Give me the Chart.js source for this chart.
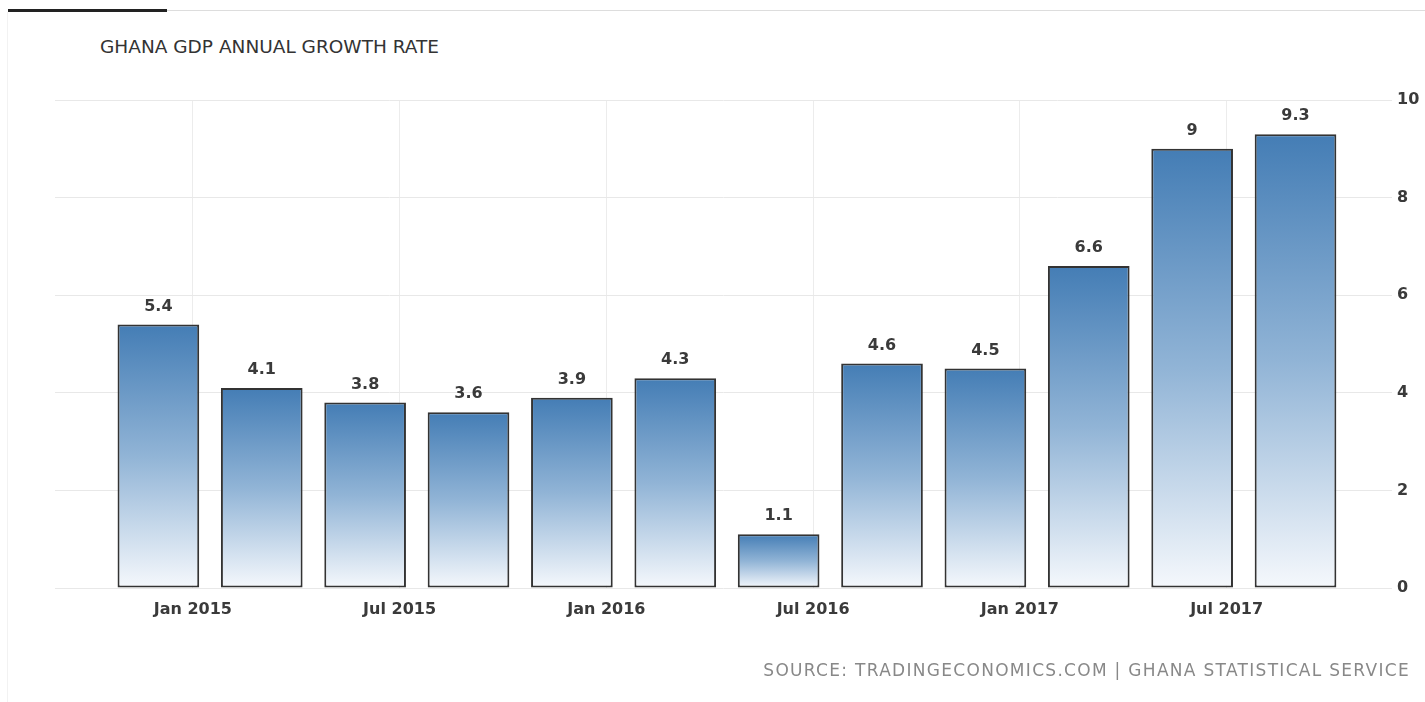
<!DOCTYPE html>
<html>
<head>
<meta charset="utf-8">
<script src="https://cdn.jsdelivr.net/npm/chart.js@4/dist/chart.umd.min.js"></script>
<style>
  html, body { margin: 0; padding: 0; background: #fff; }
  body { width: 1425px; height: 702px; position: relative; overflow: hidden; font-family: "DejaVu Sans", sans-serif; }
  #wrap { position: absolute; left: 0; top: 0; width: 1425px; height: 702px; }
  .topbar { position: absolute; left: 8px; top: 9px; width: 159px; height: 3px; background: #222; }
  .topline { position: absolute; left: 167px; top: 10px; right: 0; height: 1px; background: #ddd; }
  .edge { position: absolute; left: 7px; top: 12px; bottom: 0; width: 1px; background: #f2f2f2; }
  #title { position: absolute; left: 100px; top: 36px; font-size: 18.5px; color: #333; white-space: nowrap; }
  #source { position: absolute; right: 15px; top: 660px; font-size: 17px; color: #888; letter-spacing: 1.3px; white-space: nowrap; }
</style>
</head>
<body>
<div class="topbar"></div>
<div class="topline"></div>
<div class="edge"></div>
<div id="title">GHANA GDP ANNUAL GROWTH RATE</div>
<div id="wrap"><canvas id="chart" width="1425" height="702"></canvas></div>
<div id="source">SOURCE: TRADINGECONOMICS.COM | GHANA STATISTICAL SERVICE</div>
<script>
// quarterly readings, dated by the last month of each quarter
const periods = ['2014-12', '2015-03', '2015-06', '2015-09', '2015-12', '2016-03',
                 '2016-06', '2016-09', '2016-12', '2017-03', '2017-06', '2017-09'];
const growth = [5.4, 4.1, 3.8, 3.6, 3.9, 4.3, 1.1, 4.6, 4.5, 6.6, 9, 9.3];

const tickMonths = ['2015-01', '2015-07', '2016-01', '2016-07', '2017-01', '2017-07'];
const tickLabels = ['Jan 2015', 'Jul 2015', 'Jan 2016', 'Jul 2016', 'Jan 2017', 'Jul 2017'];

const yTicks = [0, 2, 4, 6, 8, 10];

// months counted from Dec 2014
function monthIndex(s) {
  const [y, m] = s.split('-').map(Number);
  return (y - 2014) * 12 + (m - 1) - 11;
}

const points = periods.map((p, i) => ({ x: monthIndex(p), y: growth[i] }));

function barGradient(context) {
  const chart = context.chart;
  if (!chart.chartArea || !context.parsed) return '#6f9cc9';
  const yScale = chart.scales.y;
  const top = yScale.getPixelForValue(context.parsed.y);
  const bottom = yScale.getPixelForValue(0);
  const g = chart.ctx.createLinearGradient(0, top, 0, bottom);
  g.addColorStop(0, '#447db5');
  g.addColorStop(0.5, '#91b4d6');
  g.addColorStop(1, '#f5f8fc');
  return g;
}

const valueLabels = {
  id: 'valueLabels',
  afterDatasetsDraw(chart) {
    const ctx = chart.ctx;
    const meta = chart.getDatasetMeta(0);
    ctx.save();
    ctx.font = 'bold 16px "DejaVu Sans", sans-serif';
    ctx.fillStyle = '#3a3a3a';
    ctx.textAlign = 'center';
    ctx.textBaseline = 'bottom';
    meta.data.forEach((bar, i) => {
      ctx.fillText(String(growth[i]), bar.x, bar.y - 10);
    });
    ctx.restore();
  }
};

new Chart(document.getElementById('chart'), {
  type: 'bar',
  data: {
    datasets: [{
      data: points,
      backgroundColor: barGradient,
      borderColor: '#333',
      borderWidth: 2,
      borderSkipped: false,
      categoryPercentage: 0.79,
      barPercentage: 1
    }]
  },
  plugins: [valueLabels],
  options: {
    responsive: false,
    animation: false,
    layout: { padding: { left: 55, top: 100, right: 0, bottom: 74 } },
    plugins: {
      legend: { display: false },
      title: { display: false },
      tooltip: { enabled: false }
    },
    scales: {
      x: {
        type: 'linear',
        min: -3,
        max: 35.8,
        offset: false,
        grid: { color: '#ececec', lineWidth: 1, drawTicks: false, offset: false },
        border: { display: false },
        afterBuildTicks: (scale) => {
          scale.ticks = tickMonths.map(t => ({ value: monthIndex(t) }));
        },
        afterFit: (scale) => { scale.height = 40; },
        ticks: {
          autoSkip: false,
          maxRotation: 0,
          padding: 12,
          color: '#3a3a3a',
          font: { family: 'DejaVu Sans', size: 16, weight: 'bold' },
          callback: (value, index) => tickLabels[index]
        }
      },
      y: {
        position: 'right',
        min: 0,
        max: 10,
        grid: { color: '#e8e8e8', lineWidth: 1, drawTicks: false },
        border: { display: false },
        afterBuildTicks: (scale) => {
          scale.ticks = yTicks.map(v => ({ value: v }));
        },
        afterFit: (scale) => { scale.width = 33; },
        ticks: {
          padding: 5,
          color: '#3a3a3a',
          font: { family: 'DejaVu Sans', size: 16, weight: 'bold' }
        }
      }
    }
  }
});
</script>
</body>
</html>
